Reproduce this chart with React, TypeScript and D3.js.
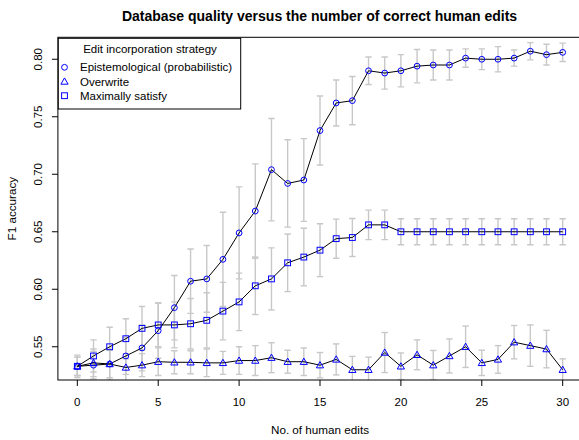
import React from "react";
import * as d3 from "d3";

// number of human edits (x)
const edits = [
  0, 1, 2, 3, 4, 5, 6, 7, 8, 9, 10, 11, 12, 13, 14, 15, 16, 17, 18, 19, 20,
  21, 22, 23, 24, 25, 26, 27, 28, 29, 30,
];

// Epistemological (probabilistic)
const epiMean = [
  0.533, 0.534, 0.535, 0.542, 0.549, 0.564, 0.584, 0.607, 0.609, 0.626, 0.649,
  0.668, 0.704, 0.692, 0.695, 0.738, 0.762, 0.764, 0.790, 0.788, 0.790, 0.794,
  0.795, 0.795, 0.801, 0.800, 0.800, 0.801, 0.807, 0.804, 0.806,
];
const epiErr = [
  0.008, 0.012, 0.014, 0.016, 0.02, 0.024, 0.028, 0.028, 0.029, 0.041, 0.04,
  0.041, 0.0445, 0.038, 0.036, 0.03, 0.02, 0.021, 0.012, 0.014, 0.014, 0.0145,
  0.013, 0.013, 0.008, 0.009, 0.011, 0.007, 0.0075, 0.009, 0.008,
];

// Overwrite
const owMean = [
  0.533, 0.536, 0.535, 0.532, 0.534, 0.537, 0.5365, 0.5365, 0.536, 0.536,
  0.538, 0.538, 0.5405, 0.537, 0.537, 0.534, 0.539, 0.53, 0.53, 0.545, 0.533,
  0.543, 0.534, 0.542, 0.55, 0.536, 0.539, 0.554, 0.551, 0.548, 0.53,
];
const owErr = [
  0.008, 0.012, 0.012, 0.012, 0.01, 0.012, 0.01, 0.01, 0.012, 0.01, 0.012,
  0.013, 0.013, 0.01, 0.012, 0.011, 0.0135, 0.0116, 0.011, 0.0174, 0.0116,
  0.013, 0.0128, 0.0148, 0.018, 0.011, 0.012, 0.0145, 0.018, 0.0163, 0.0095,
];

// Maximally satisfy
const msMean = [
  0.533, 0.542, 0.55, 0.557, 0.566, 0.569, 0.569, 0.57, 0.573, 0.581, 0.589,
  0.603, 0.609, 0.623, 0.628, 0.634, 0.644, 0.645, 0.656, 0.656, 0.65, 0.65,
  0.65, 0.65, 0.65, 0.65, 0.65, 0.65, 0.65, 0.65, 0.65,
];
const msErr = [
  0.0097, 0.014, 0.017, 0.0174, 0.019, 0.019, 0.02, 0.022, 0.024, 0.025, 0.025,
  0.025, 0.027, 0.025, 0.025, 0.023, 0.017, 0.0165, 0.0128, 0.0128, 0.0113,
  0.0113, 0.0113, 0.0113, 0.0113, 0.0113, 0.0113, 0.0113, 0.0113, 0.0113,
  0.0113,
];

const xTicks = [0, 5, 10, 15, 20, 25, 30];
const yTicks = [0.55, 0.6, 0.65, 0.7, 0.75, 0.8];

const series = [
  { name: "Epistemological (probabilistic)", mean: epiMean, err: epiErr, shape: "circle" },
  { name: "Overwrite", mean: owMean, err: owErr, shape: "triangle" },
  { name: "Maximally satisfy", mean: msMean, err: msErr, shape: "square" },
];

const W = 579;
const H = 440;
const plot = { left: 57.9, right: 582.1, top: 37.3, bottom: 380 };
const font = "'Liberation Sans', Arial, Helvetica, sans-serif";
const blue = "#0000ff";

const x = d3.scaleLinear().domain([-1.2, 31.2]).range([plot.left, plot.right]);
const y = d3.scaleLinear().domain([0.5211, 0.8191]).range([plot.bottom, plot.top]);

function Marker({ shape, cx, cy }: { shape: string; cx: number; cy: number }) {
  if (shape === "circle")
    return <circle cx={cx} cy={cy} r={2.9} fill="none" stroke={blue} strokeWidth={1} />;
  if (shape === "square")
    return (
      <rect x={cx - 2.9} y={cy - 2.9} width={5.8} height={5.8} fill="none" stroke={blue} strokeWidth={1} />
    );
  const s = 3.6;
  return (
    <path
      d={`M${cx},${cy - s}L${cx + s},${cy + s * 0.75}L${cx - s},${cy + s * 0.75}Z`}
      fill="none"
      stroke={blue}
      strokeWidth={1}
    />
  );
}

export default function App() {
  const line = d3
    .line<number>()
    .x((_, i) => x(edits[i]))
    .y((d) => y(d));

  return (
    <svg
      width={W}
      height={H}
      style={{ position: "absolute", left: 0, top: 0, background: "white" }}
      fontFamily={font}
    >
      <defs>
        <clipPath id="plotclip">
          <rect x={plot.left} y={plot.top} width={plot.right - plot.left} height={plot.bottom - plot.top} />
        </clipPath>
      </defs>

      <text x={319.5} y={20.5} textAnchor="middle" fontSize={14} fontWeight="bold">
        Database quality versus the number of correct human edits
      </text>

      <g clipPath="url(#plotclip)">
        {/* error bars */}
        {series.map((s) =>
          s.mean.map((m, i) => {
            const cx = x(edits[i]);
            const y0 = y(m - s.err[i]);
            const y1 = y(m + s.err[i]);
            return (
              <g key={s.name + i} stroke="#c8c8c8" strokeWidth={1.4}>
                <line x1={cx} x2={cx} y1={y0} y2={y1} />
                <line x1={cx - 3.2} x2={cx + 3.2} y1={y0} y2={y0} />
                <line x1={cx - 3.2} x2={cx + 3.2} y1={y1} y2={y1} />
              </g>
            );
          })
        )}
        {series.map((s) => (
          <g key={s.name}>
            <path d={line(s.mean) || ""} fill="none" stroke="black" strokeWidth={1} />
            {s.mean.map((m, i) => (
              <Marker key={i} shape={s.shape} cx={x(edits[i])} cy={y(m)} />
            ))}
          </g>
        ))}
      </g>

      {/* plot box */}
      <rect
        x={plot.left}
        y={plot.top}
        width={plot.right - plot.left}
        height={plot.bottom - plot.top}
        fill="none"
        stroke="black"
        strokeWidth={1}
      />

      {/* x axis */}
      <g fontSize={11.5}>
        {xTicks.map((t) => (
          <g key={t}>
            <line x1={x(t)} x2={x(t)} y1={plot.bottom} y2={plot.bottom + 6} stroke="black" />
            <text x={x(t)} y={406} textAnchor="middle">
              {t}
            </text>
          </g>
        ))}
      </g>
      <text x={(plot.left + plot.right) / 2} y={434} textAnchor="middle" fontSize={11.7}>
        No. of human edits
      </text>

      {/* y axis */}
      <g fontSize={11.5}>
        {yTicks.map((t) => (
          <g key={t}>
            <line x1={plot.left - 6} x2={plot.left} y1={y(t)} y2={y(t)} stroke="black" />
            <text
              transform={`translate(${42},${y(t)}) rotate(-90)`}
              textAnchor="middle"
            >
              {t.toFixed(2)}
            </text>
          </g>
        ))}
      </g>
      <text
        transform={`translate(16,${(plot.top + plot.bottom) / 2}) rotate(-90)`}
        textAnchor="middle"
        fontSize={11.7}
      >
        F1 accuracy
      </text>

      {/* legend */}
      <g>
        <rect x={58.3} y={38.3} width={182.4} height={70.7} fill="white" stroke="black" strokeWidth={1} />
        <text x={150} y={53} textAnchor="middle" fontSize={11.5}>
          Edit incorporation strategy
        </text>
        {series.map((s, i) => (
          <g key={s.name}>
            <Marker shape={s.shape} cx={64.5} cy={67.3 + i * 14.2} />
            <text x={80} y={71.4 + i * 14.2} fontSize={11.5}>
              {s.name}
            </text>
          </g>
        ))}
      </g>
    </svg>
  );
}
